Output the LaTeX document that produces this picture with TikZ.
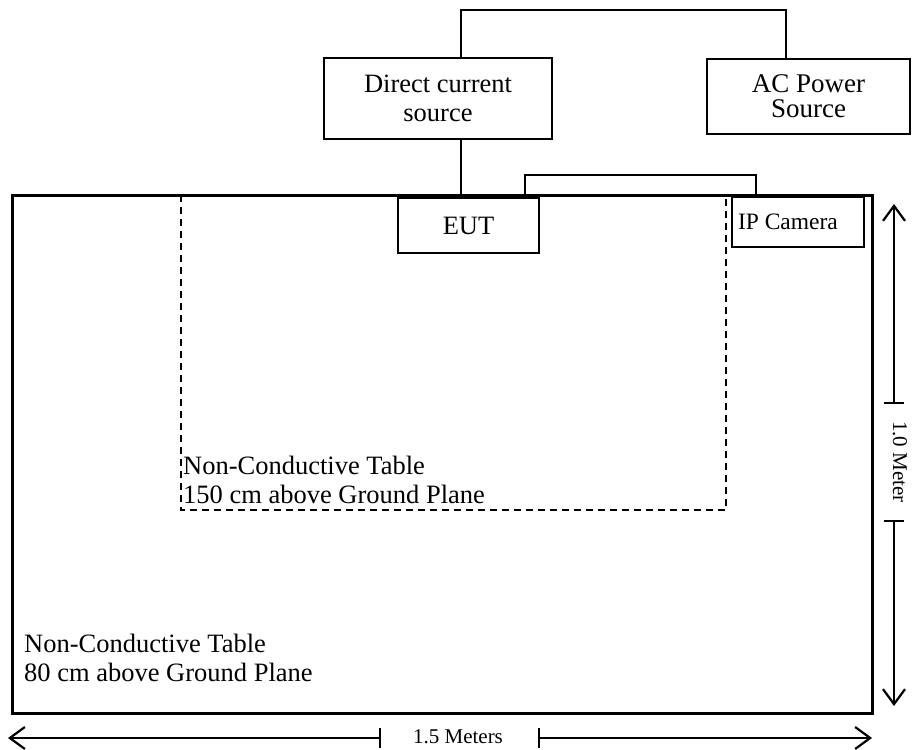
\documentclass[tikz,border=0pt]{standalone}
\usepackage{fontspec}
\setmainfont{Liberation Serif}
\usetikzlibrary{arrows.meta}

\newcommand{\boxfont}{\fontsize{26.5}{29}\selectfont}
\newcommand{\acfont}{\fontsize{27}{25}\selectfont}
\newcommand{\camfont}{\fontsize{23.5}{26}\selectfont}
\newcommand{\dimfont}{\fontsize{21}{24}\selectfont}

\tikzset{
  srcbox/.style={rectangle, draw, line width=1.5pt, inner sep=0pt, align=center},
  wire/.style={line width=1.6pt},
  dimline/.style={line width=1.6pt, -{Straight Barb[length=15pt,width=22pt,line width=2.2pt]}},
  tabletext/.style={anchor=base west, inner sep=0pt, align=left, font=\boxfont},
}

\begin{document}
\begin{tikzpicture}[x=1pt,y=-1pt]
\useasboundingbox (0,0) rectangle (912,749);

% tables
\draw[line width=3pt] (12.7,195) rectangle (872,713);
\draw[line width=1.5pt, dash pattern=on 7pt off 5pt] (181,195) rectangle (726,510);
% base anchor sits on the last line
\node[tabletext] (tinner) at (183,503) {Non-Conductive Table\\150 cm above Ground Plane};
\node[tabletext] (touter) at (24,681) {Non-Conductive Table\\80 cm above Ground Plane};

% sources and equipment
\node[srcbox, minimum width=228, minimum height=81, font=\boxfont] (dc) at (438,98.5) {Direct current\\source};
\node[srcbox, minimum width=203, minimum height=75, font=\acfont] (ac) at (808.5,96.5) {AC Power\\Source};
\node[srcbox, fill=white, minimum width=141, minimum height=55, font=\boxfont] (eut) at (468.5,225.5) {EUT};
\node[srcbox, fill=white, minimum height=50, text width=120, inner xsep=6pt, align=flush left, font=\camfont] (cam) at (798,222) {IP Camera};

% wiring
\coordinate (dcw) at (461,10);
\coordinate (acw) at (786,10);
\coordinate (eutw) at (525,175);
\coordinate (camw) at (756,175);
\draw[wire] (dc.north -| dcw) -- (dcw) -- (acw) -- (ac.north -| acw);
\draw[wire] (dc.south -| dcw) -- (eut.north -| dcw);
\draw[wire] (eut.north -| eutw) -- (eutw) -- (camw) -- (cam.north -| camw);

% dimensions
\node[rotate=-90, inner sep=0pt, font=\dimfont] (vlab) at (900,462) {1.0 Meter};
\coordinate (vtick1) at (894,403);
\coordinate (vtick2) at (894,521);
\coordinate (vtop) at (894,204);
\coordinate (vbot) at (894,706);
\draw[wire] ([xshift=-10]vtick1) -- ([xshift=10]vtick1);
\draw[wire] ([xshift=-10]vtick2) -- ([xshift=10]vtick2);
\draw[dimline] (vtick1) -- (vtop);
\draw[dimline] (vtick2) -- (vbot);

\node[inner sep=0pt, font=\dimfont] (hlab) at (458,737) {1.5 Meters};
\coordinate (htick1) at (380,738);
\coordinate (htick2) at (539,738);
\coordinate (hleft) at (8,738);
\coordinate (hright) at (872,738);
\draw[wire] ([yshift=10]htick1) -- ([yshift=-10]htick1);
\draw[wire] ([yshift=10]htick2) -- ([yshift=-10]htick2);
\draw[dimline] (htick1) -- (hleft);
\draw[dimline] (htick2) -- (hright);
\end{tikzpicture}
\end{document}
